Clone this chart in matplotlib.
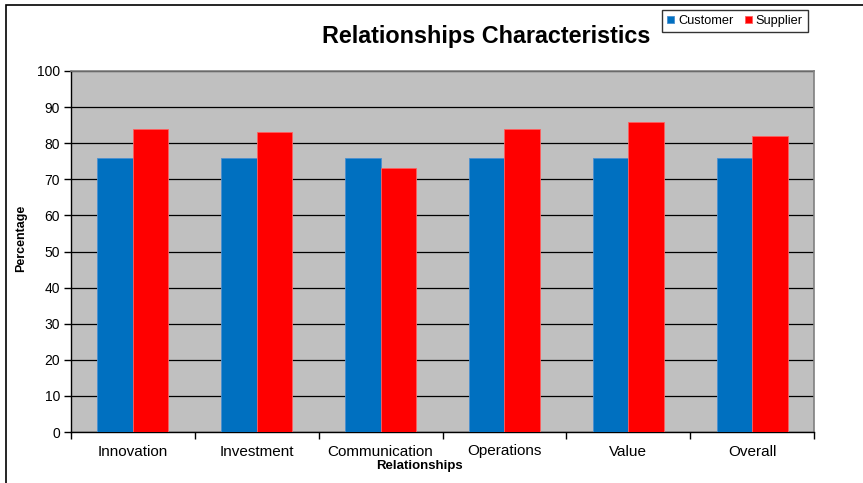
"""Relationships characteristics: customer vs supplier bar chart."""

import numpy as np
import matplotlib
matplotlib.use("Agg")
import matplotlib.pyplot as plt
from matplotlib.patches import Rectangle

plt.rcParams["font.family"] = ["Liberation Sans", "DejaVu Sans"]

categories = ["Innovation", "Investment", "Communication", "Operations", "Value", "Overall"]
customer = [76, 76, 76, 76, 76, 76]
supplier = [84, 83, 73, 84, 86, 82]
y_ticks = [0, 10, 20, 30, 40, 50, 60, 70, 80, 90, 100]

BLUE = "#0070C0"
RED = "#FF0000"

fig = plt.figure(figsize=(8.63, 4.83), dpi=100)
ax = fig.add_axes([71 / 863, 1 - 432 / 483, (814 - 71) / 863, (432 - 71) / 483])
ax.set_facecolor("#C0C0C0")

x = np.arange(len(categories))
w = 0.287
ax.bar(x - w / 2, customer, w, color=BLUE, edgecolor="#4A8FD0", linewidth=0.6,
       label="Customer", zorder=3)
ax.bar(x + w / 2, supplier, w, color=RED, edgecolor="#FF6060", linewidth=0.6,
       label="Supplier", zorder=3)

ax.set_xlim(-0.5, len(categories) - 0.5)
ax.set_ylim(0, 100)
ax.set_yticks(y_ticks)
ax.yaxis.grid(True, color="black", linewidth=0.9, zorder=1)
ax.set_axisbelow(True)

ax.set_xticks(x)
ax.set_xticklabels(categories, fontsize=11)
ax.set_xticks(np.arange(len(categories) + 1) - 0.5, minor=True)
ax.tick_params(axis="x", which="major", length=0, pad=9)
ax.tick_params(axis="x", which="minor", length=5, width=1, direction="out")
ax.tick_params(axis="y", length=5, width=1, labelsize=10, pad=3)

for side in ["top", "right"]:
    ax.spines[side].set_color("#808080")
    ax.spines[side].set_linewidth(1.2)
for side in ["left", "bottom"]:
    ax.spines[side].set_color("black")
    ax.spines[side].set_linewidth(1)

fig.text(419 / 863, 1 - 466 / 483, "Relationships", ha="center", va="center",
         fontsize=9.5, fontweight="bold")
fig.text(21 / 863, 1 - 238 / 483, "Percentage", ha="center", va="center",
         rotation=90, fontsize=9, fontweight="bold")
fig.text(486 / 863, 1 - 36 / 483, "Relationships Characteristics", ha="center",
         va="center", fontsize=16.8, fontweight="bold")

leg = fig.legend(loc="upper left", bbox_to_anchor=(662 / 863, 1 - 10 / 483),
                 ncol=2, fontsize=9.2, frameon=True, fancybox=False,
                 handlelength=0.55, handleheight=0.55, handletextpad=0.3,
                 columnspacing=0.9, borderpad=0.4, borderaxespad=0)
leg.get_frame().set_edgecolor("black")
leg.get_frame().set_linewidth(1)

# chart outer border (left and top edges visible)
fig.patches.append(Rectangle((6 / 863, -0.1), 1.2, 1.1 - 5 / 483,
                             transform=fig.transFigure, fill=False,
                             edgecolor="black", linewidth=1.2))

plt.savefig("out.png", dpi=100)
